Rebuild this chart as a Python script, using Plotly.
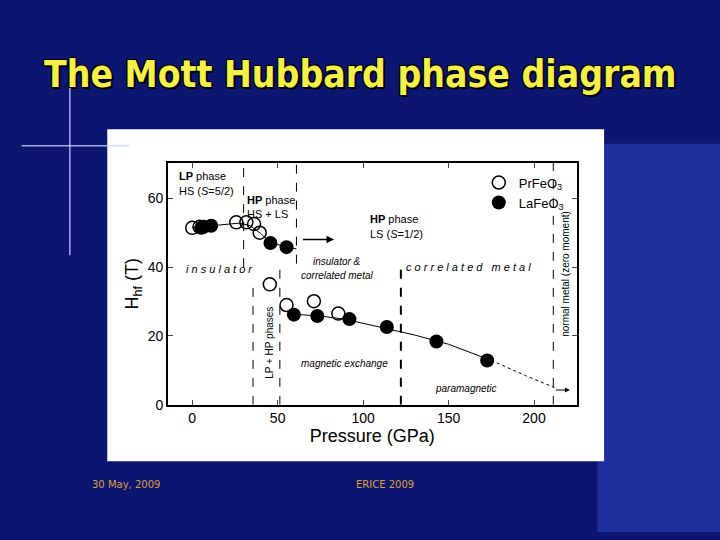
import plotly.graph_objects as go

# Data (pressure in GPa, hyperfine field in T)
pr_p = [0, 4.3, 25.8, 31.7, 36.2, 39.5, 45.4, 55.2, 71.2, 85.5]
pr_h = [51.4, 51.7, 53.0, 53.0, 52.5, 50.0, 35.0, 29.0, 30.1, 26.5]
la_p = [5.3, 6.8, 11.1, 45.8, 55.2, 59.5, 73.2, 92.0, 113.9, 142.9, 172.6]
la_h = [51.4, 51.7, 52.0, 47.0, 45.8, 26.2, 25.8, 24.9, 22.6, 18.4, 12.9]

# guide curves
upper_p = [0, 10, 20, 28, 34, 40, 46, 52, 58, 61]
upper_h = [51.5, 52.0, 52.6, 52.8, 52.0, 49.8, 47.0, 46.2, 45.6, 45.3]
lower_p = [57, 65, 75, 90, 110, 130, 150, 175]
lower_h = [26.4, 26.1, 25.8, 24.8, 22.6, 20.3, 17.6, 12.9]
tail_p = [175, 195, 212]
tail_h = [12.9, 8.5, 5.0]

fig = go.Figure()
fig.add_trace(go.Scatter(x=upper_p, y=upper_h, mode='lines', line=dict(color='black', width=1), showlegend=False))
fig.add_trace(go.Scatter(x=lower_p, y=lower_h, mode='lines', line=dict(color='black', width=1), showlegend=False))
fig.add_trace(go.Scatter(x=tail_p, y=tail_h, mode='lines', line=dict(color='black', width=1, dash='dot'), showlegend=False))
fig.add_trace(go.Scatter(x=pr_p, y=pr_h, mode='markers', name='PrFeO<sub>3</sub>',
                         marker=dict(symbol='circle-open', size=13, color='black', line=dict(width=1.5))))
fig.add_trace(go.Scatter(x=la_p, y=la_h, mode='markers', name='LaFeO<sub>3</sub>',
                         marker=dict(symbol='circle', size=14, color='black')))

shapes = [
    # light blue block on the right of the slide
    dict(type='rect', xref='paper', yref='paper', x0=0.83, x1=1, y0=0, y1=0.73,
         fillcolor='#1c2f9c', line=dict(width=0), layer='below'),
    # white picture panel
    dict(type='rect', xref='paper', yref='paper', x0=0.149, x1=0.839, y0=0.133, y1=0.757,
         fillcolor='white', line=dict(width=0), layer='below'),
    # lens flare
    dict(type='line', xref='paper', yref='paper', x0=0.097, x1=0.097, y0=0.52, y1=0.84,
         line=dict(color='rgba(200,210,255,0.8)', width=1.5)),
    dict(type='line', xref='paper', yref='paper', x0=0.03, x1=0.18, y0=0.726, y1=0.726,
         line=dict(color='rgba(200,210,255,0.8)', width=1.5)),
]
for x0, y0, y1, w in [(30.1, 40, 70.3, 1), (61, 41, 70.3, 1), (35.6, 0, 34, 1),
                      (51.3, 0, 40, 1), (122.1, 0, 40, 2), (211.3, 0, 70.3, 1)]:
    shapes.append(dict(type='line', xref='x', yref='y', x0=x0, x1=x0, y0=y0, y1=y1,
                       line=dict(color='black', width=w, dash='dash')))

def note(x, y, text, size=11, italic=False, angle=0, xanchor='left'):
    return dict(x=x, y=y, xref='x', yref='y', text=text, showarrow=False, textangle=angle,
                xanchor=xanchor, font=dict(size=size, color='black', family='Arial',
                                           style='italic' if italic else 'normal'))

annotations = [
    note(-9, 66.5, '<b>LP</b> phase'),
    note(-9, 62, 'HS (<i>S</i>=5/2)'),
    note(31, 59.5, '<b>HP</b> phase'),
    note(31, 55.5, 'HS + LS'),
    note(103, 54, '<b>HP</b> phase'),
    note(103, 49.5, 'LS (<i>S</i>=1/2)'),
    note(-5, 39.5, 'i n s u l a t o r', italic=True),
    note(85, 41.5, 'insulator &amp;', size=10, italic=True, xanchor='center'),
    note(85, 37.5, 'correlated metal', size=10, italic=True, xanchor='center'),
    note(124, 40, 'c o r r e l a t e d   m e t a l', italic=True),
    note(89, 12, 'magnetic exchange', size=10, italic=True, xanchor='center'),
    note(160, 4.8, 'paramagnetic', size=10, italic=True, xanchor='center'),
    note(45.5, 18, 'LP + HP phases', size=10, angle=-90, xanchor='center'),
    note(218, 38, 'normal metal (zero moment)', size=10, angle=-90, xanchor='center'),
    dict(x=83, y=48, ax=64, ay=48, xref='x', yref='y', axref='x', ayref='y', showarrow=True,
         arrowhead=2, arrowsize=1, arrowwidth=1.5, arrowcolor='black', text=''),
    dict(x=221, y=4.3, ax=212, ay=4.3, xref='x', yref='y', axref='x', ayref='y', showarrow=True,
         arrowhead=2, arrowsize=1, arrowwidth=1, arrowcolor='black', text=''),
    dict(x=0.5, y=0.905, xref='paper', yref='paper', showarrow=False,
         text='<b>The Mott Hubbard phase diagram</b>',
         font=dict(size=37, color='#f4f04a', family='DejaVu Sans Condensed',
                   shadow='2px 2px 0px black, -1px -1px 0px black, 1px -1px 0px black, -1px 1px 0px black')),
    dict(x=0.125, y=0.075, xref='paper', yref='paper', showarrow=False, xanchor='left',
         text='30 May, 2009', font=dict(size=10, color='#d8a040', family='DejaVu Sans')),
    dict(x=0.535, y=0.075, xref='paper', yref='paper', showarrow=False,
         text='ERICE 2009', font=dict(size=10, color='#d8a040', family='DejaVu Sans')),
]

fig.update_layout(
    width=720, height=540,
    paper_bgcolor='#0c1670', plot_bgcolor='white',
    margin=dict(l=0, r=0, t=0, b=0),
    shapes=shapes, annotations=annotations,
    legend=dict(x=0.79, y=0.685, xanchor='right', yanchor='top', bgcolor='rgba(0,0,0,0)',
                font=dict(size=13, color='black', family='Arial')),
    xaxis=dict(domain=[0.233, 0.801], range=[-14.3, 225], tickvals=[0, 50, 100, 150, 200],
               ticks='inside', mirror='ticks', showline=True, linecolor='black', linewidth=1.5,
               showgrid=False, zeroline=False, tickfont=dict(size=14, color='black', family='Arial'),
               title=dict(text='Pressure (GPa)', standoff=2, font=dict(size=18, color='black', family='Arial'))),
    yaxis=dict(domain=[0.239, 0.694], range=[0, 70.3], tickvals=[0, 20, 40, 60],
               ticks='inside', mirror='ticks', showline=True, linecolor='black', linewidth=1.5,
               showgrid=False, zeroline=False, tickfont=dict(size=14, color='black', family='Arial'),
               title=dict(text='H<sub>hf</sub> (T)', standoff=4, font=dict(size=18, color='black', family='Arial'))),
)

fig.write_html('out.html', config={'displayModeBar': False},
               post_script="document.body.style.margin='0';")
